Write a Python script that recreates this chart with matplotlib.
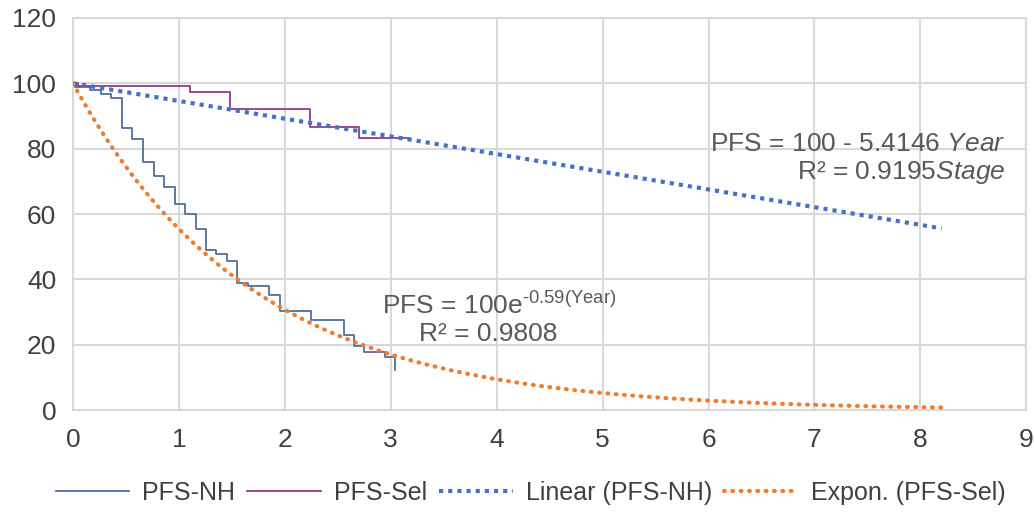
import matplotlib
matplotlib.use("Agg")
import matplotlib.pyplot as plt
import numpy as np

plt.rcParams['font.family'] = ['Liberation Sans', 'DejaVu Sans']
plt.rcParams['mathtext.fontset'] = 'custom'
plt.rcParams['mathtext.rm'] = 'Liberation Sans'
plt.rcParams['mathtext.it'] = 'Liberation Sans:italic'

# Kaplan-Meier steps
nh_years = [0, 0.02, 0.16, 0.26, 0.36, 0.46, 0.56, 0.66, 0.76, 0.86, 0.96, 1.06, 1.16,
            1.26, 1.35, 1.45, 1.55, 1.65, 1.85, 1.95, 2.25, 2.56, 2.65, 2.75, 2.95, 3.04]
nh_pfs = [100, 99, 97.9, 96.8, 95.6, 86.3, 83, 76, 71.6, 68.3, 63.2, 60.1, 55.5,
          48.9, 47.7, 45.6, 38.9, 37.9, 35.2, 30.4, 27.7, 22.9, 19.7, 17.8, 16.1, 12.2]

sel_years = [0, 0.05, 1.10, 1.48, 2.24, 2.70, 3.17]
sel_pfs = [100, 99.3, 97.2, 92.0, 86.5, 83.3, 83.3]

# trendline equations shown on the chart
lin_intercept = 100
lin_slope = -5.4146
exp_a = 100
exp_b = -0.59
trend_end = 8.2

x_ticks = [0, 1, 2, 3, 4, 5, 6, 7, 8, 9]
y_ticks = [0, 20, 40, 60, 80, 100, 120]

fig = plt.figure(figsize=(10.34, 5.12), dpi=100)
ax = fig.add_axes([0.0706, 0.199, 0.922, 0.766])

tx = np.linspace(0, trend_end, 300)

ax.plot(nh_years, nh_pfs, drawstyle='steps-post', color='#52709A', lw=1.3, label='PFS-NH', zorder=3)
ax.plot(sel_years, sel_pfs, drawstyle='steps-post', color='#933C88', lw=1.3, label='PFS-Sel', zorder=3)
ax.plot(tx, lin_intercept + lin_slope * tx, color='#4472C4', lw=3,
        dashes=(1, 1.2), dash_capstyle='butt', label='Linear (PFS-NH)', zorder=4)
ax.plot(tx, exp_a * np.exp(exp_b * tx), color='#ED7D31', lw=3,
        dashes=(0.2, 1.8), dash_capstyle='round', label='Expon. (PFS-Sel)', zorder=4)

ax.set_xlim(0, 9)
ax.set_ylim(0, 120)
ax.set_xticks(x_ticks)
ax.set_yticks(y_ticks)
ax.grid(True, color='#D9D9D9', lw=1.5)
ax.set_axisbelow(True)
for s in ax.spines.values():
    s.set_color('#D9D9D9')
    s.set_linewidth(1.5)
ax.tick_params(length=0, labelsize=19, labelcolor='#404040')
ax.tick_params(axis='y', pad=12)
ax.tick_params(axis='x', pad=13)

txt = dict(fontsize=19, color='#595959', va='center')
ax.text(8.8, 81.5, r'PFS = 100 - 5.4146 $\it{Year}$', ha='right', **txt)
ax.text(8.8, 72.8, r'R² = 0.9195$\it{Stage}$', ha='right', **txt)
ax.text(2.92, 32, r'PFS = 100e$^{\text{-0.59(Year)}}$', ha='left', **txt)
ax.text(3.92, 23.2, 'R² = 0.9808', ha='center', **txt)

fig.legend(loc='center', bbox_to_anchor=(0.513, 0.037), ncol=4, frameon=False,
           fontsize=18, handlelength=2.95, columnspacing=0.5, handletextpad=0.5,
           labelcolor='#404040')

fig.savefig('out.png', dpi=100)
